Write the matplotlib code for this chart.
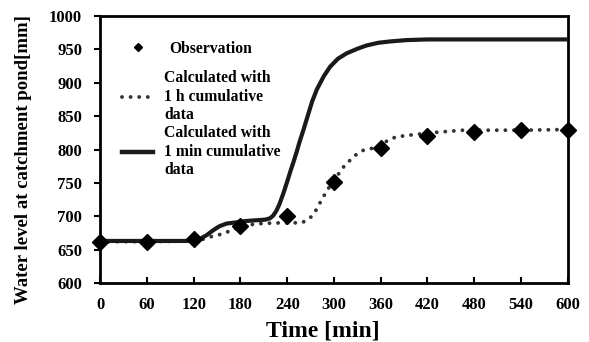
import matplotlib
matplotlib.use("Agg")
import matplotlib.pyplot as plt
from matplotlib.lines import Line2D

plt.rcParams['font.family'] = ['Liberation Serif', 'DejaVu Serif']
plt.rcParams['font.weight'] = 'bold'

obs_t = [0, 60, 120, 180, 240, 300, 360, 420, 480, 540, 600]
obs_v = [662, 662, 666, 686, 701, 752, 803, 821, 827, 829, 830]

h1_t = [0, 60, 120, 130, 141, 152, 162, 171, 179, 190, 205, 225, 248, 260, 269, 275, 280, 286, 291, 299,
        310, 318, 327, 335, 345, 359, 369, 380, 400, 433, 466, 500, 540, 600]
h1_v = [662, 662, 663, 665, 669, 672, 676, 680, 684, 687, 689, 690, 690, 691, 697, 705, 716, 728, 739, 751,
        771, 781, 791, 798, 801, 804, 814, 819, 822, 826, 829, 829, 829, 830]

m1_t = [0, 60, 120, 128, 137, 145, 153, 162, 175, 188, 200, 212, 218, 222, 226, 230, 235, 240, 244, 248,
        252, 256, 261, 267, 272, 278, 287, 295, 305, 316, 330, 342, 357, 372, 393, 420, 480, 540, 600]
m1_v = [663, 663, 663, 666, 672, 679, 685, 689, 691, 693, 694, 695, 697, 701, 708, 718, 734, 752, 767, 781,
        796, 812, 830, 853, 872, 890, 910, 924, 936, 944, 951, 956, 960, 962, 964, 965, 965, 965, 965]

fig = plt.figure(figsize=(5.89, 3.42), dpi=100)
ax = fig.add_axes([0.170, 0.1725, 0.794, 0.7805])

dot_style = (0, (0.01, 2.2))
ax.plot(h1_t, h1_v, color='#333333', linestyle=dot_style, linewidth=2.8,
        dash_capstyle='round', zorder=2)
ax.plot(m1_t, m1_v, color='#1a1a1a', linestyle='-', linewidth=3.0, zorder=3,
        solid_joinstyle='round')
ax.plot(obs_t, obs_v, linestyle='none', marker='D', markersize=8, color='black',
        clip_on=False, zorder=4)

ax.set_xlim(0, 600)
ax.set_ylim(600, 1000)
ax.set_xticks(list(range(0, 601, 60)))
ax.set_yticks(list(range(600, 1001, 50)))
ax.tick_params(axis='x', direction='in', length=4, width=1.5, labelsize=12, pad=10)
ax.tick_params(axis='y', direction='out', length=4, width=1.5, labelsize=12, pad=9)
for lab in ax.get_xticklabels() + ax.get_yticklabels():
    lab.set_fontweight('bold')
for s in ax.spines.values():
    s.set_linewidth(2.0)

ax.set_xlabel('Time [min]', fontsize=17, fontweight='bold')
ax.set_ylabel('Water level at catchment pond[mm]', fontsize=13.5, fontweight='bold')
ax.xaxis.set_label_coords(0.476, -0.142)
ax.yaxis.set_label_coords(-0.145, 0.464)

prop = {'family': 'Liberation Serif', 'weight': 'bold', 'size': 11.3}
leg1 = ax.legend([Line2D([], [], linestyle='none', marker='D', markersize=4.5, color='black')],
                 ['Observation'], loc='upper left', bbox_to_anchor=(0.047, 0.907),
                 frameon=False, prop=prop, handlelength=2.0, handletextpad=1.0,
                 borderpad=0, borderaxespad=0)
ax.add_artist(leg1)
handles = [
    Line2D([], [], color='#333333', linestyle=dot_style, linewidth=2.8, dash_capstyle='round'),
    Line2D([], [], color='#1a1a1a', linewidth=3.2),
]
labels = ['Calculated with\n1 h cumulative\ndata', 'Calculated with\n1 min cumulative\ndata']
ax.legend(handles, labels, loc='upper left', bbox_to_anchor=(0.047, 0.797), frameon=False,
          prop=prop, handlelength=2.0, handletextpad=0.7, labelspacing=0.15,
          borderpad=0, borderaxespad=0)

fig.savefig('out.png', dpi=100)
